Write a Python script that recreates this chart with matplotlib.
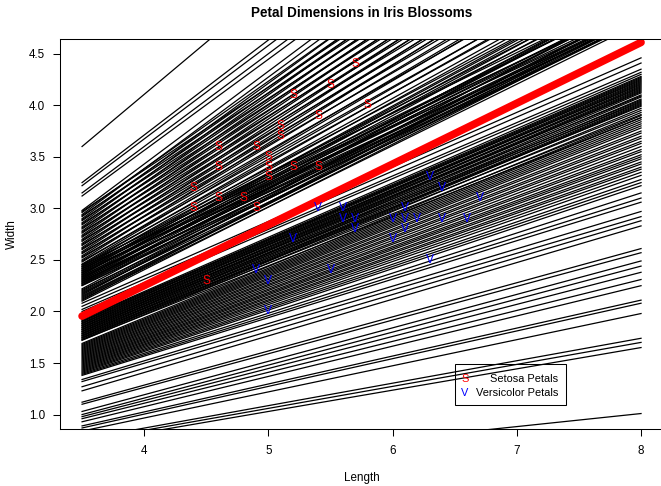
# Iris sepal scatter with sampled decision boundaries
import matplotlib
matplotlib.use("Agg")
import matplotlib.pyplot as plt
from matplotlib.patches import Rectangle

plt.rcParams['font.family'] = ['Liberation Sans', 'DejaVu Sans']

# points (length, width)
setosa_len = [5.7, 5.5, 5.2, 5.8, 5.4, 5.1, 5.1, 4.6, 4.9, 5.0, 5.0, 5.0, 4.6, 5.2, 5.4,
              4.4, 4.6, 4.8, 4.4, 4.9, 4.5]
setosa_wid = [4.4, 4.2, 4.1, 4.0, 3.9, 3.8, 3.7, 3.6, 3.6, 3.5, 3.4, 3.3, 3.4, 3.4, 3.4,
              3.2, 3.1, 3.1, 3.0, 3.0, 2.3]
versi_len = [6.3, 6.4, 6.7, 5.4, 5.6, 6.1, 5.6, 5.7, 6.0, 6.1, 6.2, 6.4, 6.6, 5.7, 6.1,
             5.2, 6.0, 6.3, 4.9, 5.5, 5.0, 5.0]
versi_wid = [3.3, 3.2, 3.1, 3.0, 3.0, 3.0, 2.9, 2.9, 2.9, 2.9, 2.9, 2.9, 2.9, 2.8, 2.8,
             2.7, 2.7, 2.5, 2.4, 2.4, 2.3, 2.0]

# boundary lines, width at length 3.5 (left) and at length 8 (right)
line_x = [3.5, 8]
left_y = [3.60, 3.25, 3.22, 3.15, 3.12,
          2.98, 2.97, 2.96, 2.94, 2.93, 2.92, 2.90, 2.89, 2.88, 2.86, 2.85, 2.84,
          2.82, 2.81, 2.80, 2.78, 2.77, 2.76, 2.74, 2.73, 2.72, 2.70, 2.69, 2.68,
          2.66, 2.65, 2.64, 2.62, 2.61, 2.60, 2.58, 2.57, 2.56, 2.54, 2.53, 2.52,
          2.50, 2.49, 2.48,
          2.46, 2.45, 2.44, 2.43, 2.42, 2.41, 2.40, 2.39, 2.38, 2.37, 2.36, 2.35,
          2.34, 2.33, 2.32, 2.31, 2.30, 2.29, 2.28, 2.27, 2.26, 2.25,
          2.455, 2.435, 2.415, 2.395, 2.375, 2.355, 2.335, 2.315, 2.295, 2.275, 2.255,
          2.22, 2.21, 2.20, 2.19, 2.18, 2.17, 2.16, 2.15, 2.14, 2.13, 2.12, 2.11, 2.10,
          2.08, 2.05, 2.02, 2.00,
          1.93, 1.92, 1.91, 1.90, 1.89, 1.88, 1.87, 1.86, 1.85, 1.84, 1.83, 1.82,
          1.81, 1.80, 1.79, 1.78, 1.77, 1.76, 1.75, 1.74, 1.73, 1.72,
          1.925, 1.905, 1.885, 1.865, 1.845, 1.825, 1.805, 1.785, 1.765, 1.745, 1.725,
          1.69, 1.68, 1.67, 1.66, 1.65, 1.64, 1.63, 1.62, 1.61, 1.60, 1.59, 1.58,
          1.57, 1.56, 1.55, 1.54, 1.53, 1.52, 1.51, 1.50, 1.49, 1.48, 1.47, 1.46,
          1.45, 1.44, 1.43, 1.42, 1.41, 1.40, 1.39, 1.38,
          1.34, 1.32, 1.27, 1.23, 1.12, 1.10, 1.03, 1.00, 0.98, 0.96, 0.93, 0.89,
          0.87, 0.84, 0.76, 0.74, 0.72, 0.44]
right_y = [8.15, 7.40, 7.30, 7.20, 7.10,
           7.03, 6.59, 6.78, 6.94, 6.50, 6.69, 6.84, 6.42, 6.60, 6.75, 6.33, 6.50,
           6.66, 6.24, 6.41, 6.56, 6.15, 6.32, 6.47, 6.06, 6.23, 6.37, 5.97, 6.14,
           6.28, 5.88, 6.05, 6.18, 5.79, 5.95, 6.09, 5.71, 5.86, 5.99, 5.62, 5.77,
           5.90, 5.53, 5.68,
           5.66, 5.10, 5.55, 4.98, 5.48, 5.05, 5.40, 4.92, 5.36, 5.00, 5.30, 4.88,
           5.25, 4.95, 5.22, 4.85, 5.18, 4.90, 5.12, 4.86, 5.08, 4.82,
           5.45, 5.30, 5.20, 5.15, 5.05, 5.28, 4.98, 5.10, 4.92, 5.02, 4.88,
           5.11, 4.86, 5.00, 4.90, 4.82, 4.95, 5.02, 4.84, 4.88, 4.86, 4.80, 4.95, 4.84,
           4.46, 4.41, 4.35, 4.32,
           4.30, 4.28, 4.27, 4.26, 4.25, 4.23, 4.22, 4.21, 4.19, 4.18, 4.16, 4.15,
           4.14, 4.12, 4.10, 4.08, 4.06, 4.04, 4.02, 4.01, 4.00, 3.97,
           4.24, 4.20, 4.17, 4.13, 4.09, 4.05, 4.03, 3.99, 3.95, 3.91, 3.88,
           3.93, 3.90, 3.88, 3.86, 3.84, 3.82, 3.80, 3.78, 3.75, 3.73, 3.70, 3.68,
           3.65, 3.63, 3.60, 3.57, 3.55, 3.52, 3.50, 3.48, 3.45, 3.43, 3.40, 3.38,
           3.35, 3.32, 3.28, 3.25, 3.22, 3.15, 3.10, 3.06,
           2.97, 2.92, 2.88, 2.83, 2.61, 2.57, 2.49, 2.44, 2.38, 2.31, 2.25, 2.11,
           2.08, 1.98, 1.74, 1.70, 1.65, 1.01]
best_y = [1.955, 4.61]

xticks = [4, 5, 6, 7, 8]
yticks = [1.0, 1.5, 2.0, 2.5, 3.0, 3.5, 4.0, 4.5]

W, H = 661, 486
fs = 8.4
fig = plt.figure(figsize=(W / 100, H / 100), dpi=100)
ax = fig.add_axes([59.7 / W, 1 - 429 / H, 603.7 / W, 389.7 / H])

for yl, yr in zip(left_y, right_y):
    ax.plot(line_x, [yl, yr], color='black', lw=0.9, zorder=1)
ax.plot(line_x, best_y, color='red', lw=5.5, solid_capstyle='round', zorder=2)

for x, y in zip(setosa_len, setosa_wid):
    ax.text(x, y, 'S', color='red', fontsize=8.64, ha='center', va='center', zorder=3)
for x, y in zip(versi_len, versi_wid):
    ax.text(x, y, 'V', color='blue', fontsize=8.64, ha='center', va='center', zorder=3)

ax.set_xlim(3.5 - 0.18, 8 + 0.18)
ax.set_ylim(1.0 - 0.14, 4.5 + 0.14)
ax.set_xticks(xticks)
ax.set_xticklabels([str(t) for t in xticks])
ax.set_yticks(yticks)
ax.set_yticklabels(['%.1f' % t for t in yticks])
ax.tick_params(direction='out', length=5.2, width=0.75, labelsize=fs)
ax.tick_params(axis='x', pad=6.5)
ax.tick_params(axis='y', pad=5.2)
for s in ax.spines.values():
    s.set_linewidth(0.75)

fig.text(361.5 / W, 1 - 13 / H, 'Petal Dimensions in Iris Blossoms', ha='center', va='center',
         fontsize=9.75, fontweight='bold')
fig.text(361.5 / W, 1 - 478 / H, 'Length', ha='center', va='center', fontsize=fs)
fig.text(12 / W, 1 - 234 / H, 'Width', ha='center', va='center', rotation=90, fontsize=fs)

# legend box (no fill, lines show through)
fig.patches.append(Rectangle((455 / W, 1 - 405 / H), 110.7 / W, 40.7 / H, fill=False,
                             edgecolor='black', lw=0.75, transform=fig.transFigure))
fig.text(465 / W, 1 - 378.5 / H, 'S', color='red', ha='center', va='center', fontsize=7.9)
fig.text(558 / W, 1 - 378.5 / H, 'Setosa Petals', ha='right', va='center', fontsize=7.9)
fig.text(465 / W, 1 - 392.7 / H, 'V', color='blue', ha='center', va='center', fontsize=7.9)
fig.text(558 / W, 1 - 392.7 / H, 'Versicolor Petals', ha='right', va='center', fontsize=7.9)

fig.savefig('out.png', dpi=100)
